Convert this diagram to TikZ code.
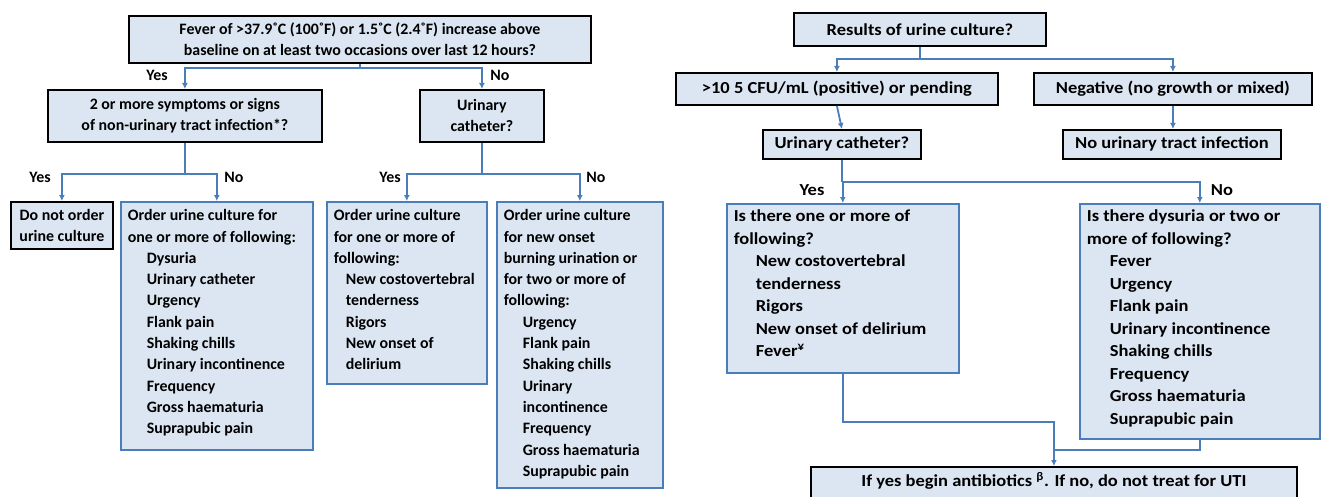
\documentclass[tikz,border=0pt]{standalone}
\usepackage{fontspec}
\setmainfont{Carlito}
\newfontfamily\rfam[FakeStretch=1.1]{Carlito}
\usetikzlibrary{arrows.meta}
\definecolor{boxfill}{HTML}{DCE6F2}
\definecolor{blueedge}{HTML}{4A7EBB}
\definecolor{arrowblue}{HTML}{4A7EBB}
\newlength{\indamt}
\newcommand{\ind}{\hspace*{\indamt}}
\newcommand{\lf}{\fontsize{15.9}{21}\bfseries\selectfont}
\newcommand{\rf}{\rfam\fontsize{16.8}{22}\bfseries\selectfont}
% #1 width, #2 height, #3 top gap, #4 font, #5 baselineskip, #6 indent, #7 content
\newcommand{\lcontent}[7]{\parbox[c][#2][t]{#1}{\raggedright\leftskip=7pt\parindent=0pt\setlength{\indamt}{#6}#4\fontsize{\csname f@size\endcsname}{#5}\selectfont\vspace*{#3}\strut #7}}
\begin{document}
\begin{tikzpicture}[x=1pt,y=-1pt,
 qbox/.style={draw=black, line width=1.8pt, fill=boxfill, anchor=north west, inner sep=0pt, align=center, font=\lf},
 rqbox/.style={qbox, font=\rf},
 lbox/.style={draw=blueedge, line width=1.6pt, fill=boxfill, anchor=north west, inner sep=0pt},
 conn/.style={draw=arrowblue, line width=1.8pt, -{Latex[length=6pt,width=6pt]}},
 seg/.style={draw=arrowblue, line width=1.8pt},
 lbl/.style={font=\lf, inner sep=0pt},
 rlbl/.style={font=\rf, inner sep=0pt}]
\useasboundingbox (0,0) rectangle (1321,497);
\clip (0,0) rectangle (1321,497);

% ---------- left flowchart ----------
\node[qbox, minimum width=462, minimum height=47] (top) at (128,15)
 {Fever of >37.9˚C (100˚F) or 1.5˚C (2.4˚F) increase above\\baseline on at least two occasions over last 12 hours?};
\node[qbox, minimum width=274, minimum height=52] (A) at (47,89)
 {2 or more symptoms or signs\\of non-urinary tract infection*?};
\node[qbox, minimum width=124, minimum height=52] (B) at (419,89)
 {Urinary\\catheter?};
\node[qbox, minimum width=102, minimum height=47] (noorder) at (10,201)
 {Do not order\\urine culture};
\node[lbox] (ord1) at (120,201) {\lcontent{192pt}{248pt}{4pt}{\lf}{21.3pt}{19pt}{%
Order urine culture for\\one or more of following:\\
\ind Dysuria\\\ind Urinary catheter\\\ind Urgency\\\ind Flank pain\\\ind Shaking chills\\
\ind Urinary incontinence\\\ind Frequency\\\ind Gross haematuria\\\ind Suprapubic pain}};
\node[lbox] (ordC) at (326,201) {\lcontent{160pt}{182pt}{4pt}{\lf}{21.3pt}{12pt}{%
Order urine culture\\for one or more of\\following:\\
\ind New costovertebral\\\ind tenderness\\\ind Rigors\\\ind New onset of\\\ind delirium}};
\node[lbox] (ordD) at (496,201) {\lcontent{166pt}{286pt}{4pt}{\lf}{21.3pt}{19pt}{%
Order urine culture\\for new onset\\burning urination or\\for two or more of\\following:\\
\ind Urgency\\\ind Flank pain\\\ind Shaking chills\\\ind Urinary\\\ind incontinence\\
\ind Frequency\\\ind Gross haematuria\\\ind Suprapubic pain}};

\path (top.south) ++(0,4) coordinate (j1);
\draw[seg] (top.south) -- (j1);
\draw[conn] (j1) -| (A.north);
\draw[conn] (j1) -| (B.north);
\path (A.south) ++(0,31) coordinate (j2);
\draw[seg] (A.south) -- (j2);
\draw[conn] (j2) -| (noorder.north);
\draw[conn] (j2) -| (ord1.north);
\path (B.south) ++(0,31) coordinate (j3);
\draw[seg] (B.south) -- (j3);
\draw[conn] (j3) -| (ordC.north);
\draw[conn] (j3) -| (ordD.north);

\node[lbl] (y1) at (157,75) {Yes};
\node[lbl] (n1) at (500,75) {No};
\node[lbl] (y2) at (40,177) {Yes};
\node[lbl] (n2) at (234,177) {No};
\node[lbl] (y3) at (390,177) {Yes};
\node[lbl] (n3) at (596,177) {No};

% ---------- right flowchart ----------
\node[rqbox, minimum width=252, minimum height=33] (res) at (793,12) {Results of urine culture?};
\node[rqbox, minimum width=322, minimum height=32] (pos) at (675,72) {>10 5 CFU/mL (positive) or pending};
\node[rqbox, minimum width=278, minimum height=32] (neg) at (1033,72) {Negative (no growth or mixed)};
\node[rqbox, minimum width=158, minimum height=29] (cath) at (762,129) {Urinary catheter?};
\node[rqbox, minimum width=218, minimum height=29] (nouti) at (1062,129) {No urinary tract infection};
\node[lbox] (yesbox) at (726,203) {\lcontent{232pt}{169pt}{2pt}{\rf}{22.5pt}{22pt}{%
Is there one or more of\\following?\\
\ind New costovertebral\\\ind tenderness\\\ind Rigors\\\ind New onset of delirium\\\ind Fever\textsuperscript{¥}}};
\node[lbox] (nobox) at (1079,203) {\lcontent{240pt}{235pt}{2pt}{\rf}{22.5pt}{23pt}{%
Is there dysuria or two or\\more of following?\\
\ind Fever\\\ind Urgency\\\ind Flank pain\\\ind Urinary incontinence\\\ind Shaking chills\\
\ind Frequency\\\ind Gross haematuria\\\ind Suprapubic pain}};
\node[rqbox, align=left] (K) at (810,466) {\parbox[c][40pt][t]{486pt}{\centering\rf\vspace*{4pt}\strut If yes begin antibiotics \textsuperscript{β}. If no, do not treat for UTI}};

\path (res.south) ++(0,12) coordinate (j0);
\draw[seg] (res.south) -- (j0);
\draw[conn] (j0) -| (pos.north);
\draw[conn] (j0) -| (neg.north);
\draw[conn] (pos.south) -- (cath.north);
\draw[conn] (neg.south) -- (neg.south |- nouti.north);
\path (cath.south) ++(0,22) coordinate (j4);
\draw[seg] (cath.south) -- (j4);
\draw[conn] (j4) -| (yesbox.north);
\draw[conn] (j4) -| (nobox.north);
\draw[conn] (yesbox.south) -- ++(0,48) -| (K.north);
\path (K.north) ++(0,-16) coordinate (m2);
\draw[seg] (nobox.south) |- (m2);

\node[rlbl] (y4) at (812,190) {Yes};
\node[rlbl] (n4) at (1222,190) {No};
\end{tikzpicture}
\end{document}
